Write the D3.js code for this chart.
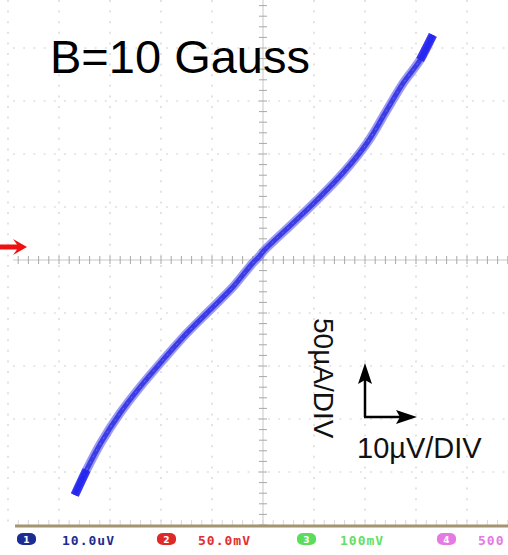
<!DOCTYPE html>
<html>
<head>
<meta charset="utf-8">
<script src="https://cdn.jsdelivr.net/npm/d3@7"></script>
<style>
html,body{margin:0;padding:0;background:#fff;}
svg{display:block;}
</style>
</head>
<body>
<svg id="chart" width="508" height="555"></svg>
<script>
// Measured I–V trace (x in µV, y in µA)
const voltage = [-36.9, -34.6, -31.8, -28.0, -24.1, -19.6, -14.9, -10.4, -5.9, -2.0, -0.8, 0.3, 5.9, 10.6, 15.7, 20.4, 24.3, 27.5, 30.8, 33.3];
const current = [-221.7, -198.1, -172.6, -144.3, -119.8, -94.3, -68.9, -47.2, -25.5, -2.8, 3.0, 9.4, 34.9, 56.6, 82.1, 110.4, 141.5, 167.0, 188.7, 212.3];

const title = "B=10 Gauss";
const xUnitLabel = "10µV/DIV";
const yUnitLabel = "50µA/DIV";
const channelIds = ["1", "2", "3", "4"];
const channelLabels = ["10.0uV", "50.0mV", "100mV", "500"];
const channelColors = ["#1c2c94", "#e02828", "#5cdc5c", "#e47ae4"];
const channelTextColors = ["#1c2c94", "#e03030", "#66dd66", "#e47ae4"];

const xDivs = d3.range(-5, 6);   // 10 µV per div
const yDivs = d3.range(-5, 6);   // 50 µA per div

const svg = d3.select("#chart");
const cx = 263, cy = 260, dx = 51, dy = 53;
const x = d3.scaleLinear().domain([-50, 50]).range([cx - 5*dx, cx + 5*dx]);
const y = d3.scaleLinear().domain([-250, 250]).range([cy + 5*dy, cy - 5*dy]);

const gLeft = 13, gRight = 508, gTop = 0, gBottom = y(-250);
const g = svg.append("g");

// dotted grid
const gridColor = "#d0d0d0";
g.selectAll(".vgrid").data(xDivs.filter(d => d !== 0)).join("line")
  .attr("x1", d => x(d*10)).attr("x2", d => x(d*10))
  .attr("y1", gTop).attr("y2", gBottom)
  .attr("stroke", gridColor).attr("stroke-width", 1.2)
  .attr("stroke-dasharray", "2," + (dy/5 - 2));
g.selectAll(".hgrid").data(yDivs.filter(d => d !== 0 && d !== -5)).join("line")
  .attr("x1", gLeft).attr("x2", gRight)
  .attr("y1", d => y(d*50)).attr("y2", d => y(d*50))
  .attr("stroke", gridColor).attr("stroke-width", 1.2)
  .attr("stroke-dasharray", "2," + (dx/5 - 2));

// center axes
g.append("line").attr("x1", gLeft).attr("x2", gRight).attr("y1", y(0)).attr("y2", y(0))
  .attr("stroke", "#c8c8c8").attr("stroke-width", 1);
g.append("line").attr("x1", x(0)).attr("x2", x(0)).attr("y1", gTop).attr("y2", gBottom)
  .attr("stroke", "#c8c8c8").attr("stroke-width", 1);
const xMinor = d3.range(-50, 50.01, 2).filter(v => v > x.invert(gLeft));
g.selectAll(".xt").data(xMinor).join("line")
  .attr("x1", d => x(d)).attr("x2", d => x(d))
  .attr("y1", y(0) - 4).attr("y2", y(0) + 4)
  .attr("stroke", "#a8a8a8").attr("stroke-width", 1);
const yMinor = d3.range(-250, 250.01, 10);
g.selectAll(".yt").data(yMinor).join("line")
  .attr("x1", x(0) - 4).attr("x2", x(0) + 4)
  .attr("y1", d => y(d)).attr("y2", d => y(d))
  .attr("stroke", "#a8a8a8").attr("stroke-width", 1);
// ticks above bottom border
g.selectAll(".bt").data(xMinor).join("line")
  .attr("x1", d => x(d)).attr("x2", d => x(d))
  .attr("y1", gBottom - 5).attr("y2", gBottom)
  .attr("stroke", "#d8d8d8").attr("stroke-width", 1);

// trace
const pts = voltage.map((v, i) => [v, current[i]]);
const line = d3.line().x(d => x(d[0])).y(d => y(d[1])).curve(d3.curveCatmullRom);
g.append("path").attr("d", line(pts)).attr("fill", "none")
  .attr("stroke", "#7070f0").attr("stroke-opacity", 0.7)
  .attr("stroke-width", 9).attr("stroke-linecap", "butt");
g.append("path").attr("d", line(pts)).attr("fill", "none")
  .attr("stroke", "#3c3ce6").attr("stroke-width", 5).attr("stroke-linecap", "butt");
g.append("path").attr("d", line(pts)).attr("fill", "none")
  .attr("stroke", "#8a8af4").attr("stroke-width", 1).attr("stroke-dasharray", "2,5")
  .attr("stroke-opacity", 0.6);
// more saturated tips
const ends = [pts.slice(0, 2), pts.slice(-2)];
ends.forEach(seg => {
  g.append("path").attr("d", line(seg)).attr("fill", "none")
    .attr("stroke", "#2222f0").attr("stroke-opacity", 0.85)
    .attr("stroke-width", 8.5).attr("stroke-linecap", "butt");
});

// bottom border
g.append("line").attr("x1", 15).attr("x2", gRight).attr("y1", gBottom + 1).attr("y2", gBottom + 1)
  .attr("stroke", "#a49472").attr("stroke-width", 3);

// channel status bar
const badgeX = [17, 157, 297, 437];
const textX = [62, 198, 340, 478];
channelIds.forEach((id, i) => {
  g.append("rect").attr("x", badgeX[i]).attr("y", 533).attr("width", 19).attr("height", 12)
    .attr("rx", 6).attr("ry", 5).attr("fill", channelColors[i]);
  g.append("text").attr("x", badgeX[i] + 9.5).attr("y", 543).attr("text-anchor", "middle")
    .attr("font-family", "DejaVu Sans").attr("font-size", 9).attr("font-weight", "bold")
    .attr("fill", "#fff").text(id);
  g.append("text").attr("x", textX[i]).attr("y", 545)
    .attr("font-family", "DejaVu Sans Mono").attr("font-size", 13).attr("font-weight", "bold")
    .attr("letter-spacing", 1)
    .attr("fill", channelTextColors[i]).text(channelLabels[i]);
});

// red trigger arrow
g.append("path").attr("d", "M0,244.5 L17,244.5 L13,239 L27,247 L13,255 L17,249.5 L0,249.5 Z")
  .attr("fill", "#ee1111");

// title
g.append("text").attr("x", 50).attr("y", 73)
  .attr("font-family", "Liberation Sans, Arial, sans-serif").attr("font-size", 47)
  .attr("fill", "#000").text(title);

// unit arrows
const ax = 365, ay = 417;
g.append("line").attr("x1", ax).attr("x2", ax).attr("y1", ay).attr("y2", 378)
  .attr("stroke", "#000").attr("stroke-width", 2.5);
g.append("line").attr("x1", ax - 1).attr("x2", 402).attr("y1", ay).attr("y2", ay)
  .attr("stroke", "#000").attr("stroke-width", 2.5);
g.append("path").attr("d", `M${ax},363 L${ax+7},384 L${ax},380 L${ax-7},384 Z`).attr("fill", "#000");
g.append("path").attr("d", `M417,${ay} L396,${ay-7} L400,${ay} L396,${ay+7} Z`).attr("fill", "#000");

g.append("text").attr("x", 357).attr("y", 458)
  .attr("font-family", "Liberation Sans, Arial, sans-serif").attr("font-size", 29)
  .attr("fill", "#111").text(xUnitLabel);
g.append("text").attr("transform", "translate(314,318) rotate(90)")
  .attr("font-family", "Liberation Sans, Arial, sans-serif").attr("font-size", 28)
  .attr("fill", "#111").text(yUnitLabel);
</script>
</body>
</html>
